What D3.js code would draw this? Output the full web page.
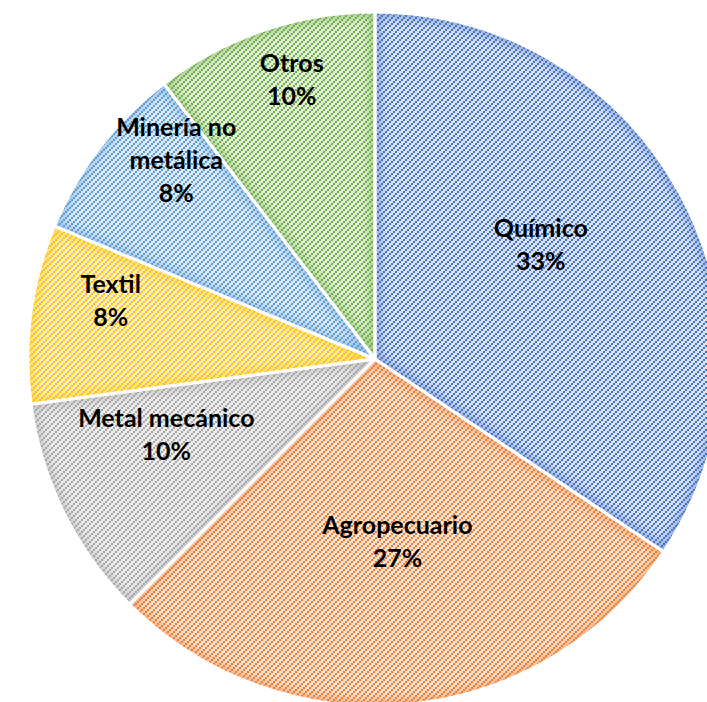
<!DOCTYPE html>
<html><head><meta charset="utf-8">
<script src="https://cdn.jsdelivr.net/npm/d3@7"></script>
<style>html,body{margin:0;padding:0;background:#fff;overflow:hidden}</style>
</head><body>
<svg id="chart" width="707" height="702"></svg>
<script>
// ---- data ----
const categories = ["Químico", "Agropecuario", "Metal mecánico", "Textil", "Minería no metálica", "Otros"];
const values = [33, 27, 10, 8, 8, 10];
const valueLabels = ["33%", "27%", "10%", "8%", "8%", "10%"];

// ---- style / layout ----
const colors = ["#4472C4", "#ED7D31", "#A5A5A5", "#FFC000", "#5B9BD5", "#70AD47"];
const tints  = ["#DAE3F3", "#FBE5D6", "#EDEDED", "#FFF2CC", "#DEEBF7", "#E2F0D9"];
const wrapLines = {"Minería no metálica": ["Minería no", "metálica"]};
// label placement: polar angle (deg from 12 o'clock) and radius fraction
const labelPolar = [[55.5, 0.58], [173, 0.53], [250, 0.64], [282.4, 0.78], [315, 0.81], [343.4, 0.84]];

const svg = d3.select("#chart");
const cx = 375, cy = 359, R = 347;
const defs = svg.append("defs");

colors.forEach((c, i) => {
  const p = defs.append("pattern").attr("id", "pat" + i)
    .attr("patternUnits", "userSpaceOnUse").attr("width", 6).attr("height", 6);
  p.append("rect").attr("width", 6).attr("height", 6).attr("fill", tints[i]);
  [[0, 4], [2, 2], [4, 0]].forEach(([x, y]) =>
    p.append("rect").attr("x", x).attr("y", y).attr("width", 2).attr("height", 2).attr("fill", c));
});
defs.append("filter").attr("id", "blur").attr("x", "-10%").attr("y", "-10%").attr("width", "120%").attr("height", "120%")
  .append("feGaussianBlur").attr("stdDeviation", 5);

const pie = d3.pie().sort(null).value(d => d);
const arcs = pie(values);
const arc = d3.arc().innerRadius(0).outerRadius(R);

const g = svg.append("g").attr("transform", `translate(${cx},${cy})`);

arcs.forEach((a, i) => {
  defs.append("clipPath").attr("id", "clip" + i).append("path").attr("d", arc(a));
  const sg = g.append("g");
  sg.append("path").attr("d", arc(a)).attr("fill", `url(#pat${i})`);
  sg.append("g").attr("clip-path", `url(#clip${i})`)
    .append("path").attr("d", arc(a)).attr("fill", "none")
    .attr("stroke", colors[i]).attr("stroke-width", 10).attr("opacity", 0.55)
    .attr("filter", "url(#blur)");
});
g.selectAll("path.sep").data(arcs).join("path").attr("class", "sep")
  .attr("d", arc).attr("fill", "none").attr("stroke", "#fff").attr("stroke-width", 3)
  .attr("stroke-linejoin", "round");

// labels
const lineH = 33;
arcs.forEach((a, i) => {
  const [ang, rf] = labelPolar[i];
  const t = ang * Math.PI / 180;
  const x = Math.sin(t) * R * rf, y = -Math.cos(t) * R * rf;
  const lines = (wrapLines[categories[i]] || [categories[i]]).concat([valueLabels[i]]);
  const text = g.append("text").attr("text-anchor", "middle")
    .attr("font-family", "Lato, 'Open Sans', sans-serif").attr("font-weight", "bold")
    .attr("font-size", 25).attr("fill", "#000");
  const y0 = y - (lines.length - 1) * lineH / 2;
  lines.forEach((l, k) => text.append("tspan").attr("x", x).attr("y", y0 + k * lineH)
    .attr("dy", "0.35em").text(l));
});
</script>
</body></html>
